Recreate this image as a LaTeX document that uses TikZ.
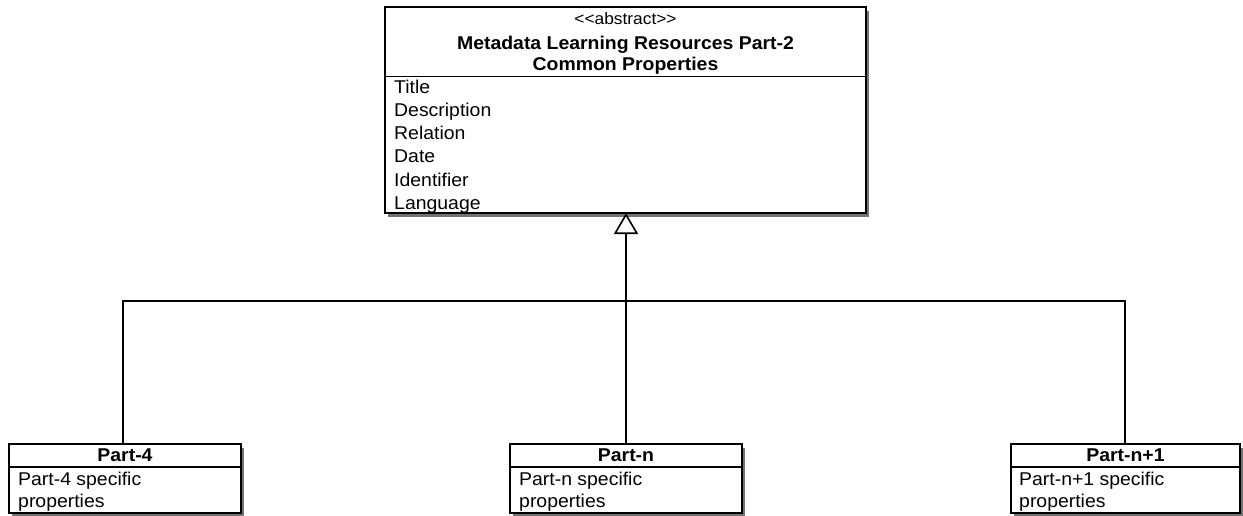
\documentclass[tikz,border=0pt]{standalone}
\usepackage{fontspec}
\setmainfont{Liberation Sans}[FakeStretch=1.05]
\usetikzlibrary{arrows.meta}
\tikzset{
  cls/.style={draw=black, line width=1.8pt, fill=white, anchor=north west, inner sep=0pt, outer sep=0pt},
  shadowbox/.style={fill=black!55, draw=none},
  attr/.style={anchor=base west, inner sep=0pt, font=\fontsize{18.5}{22}\selectfont},
  hdr/.style={anchor=base, inner sep=0pt, font=\fontsize{18.5}{22}\selectfont\bfseries},
  stereo/.style={anchor=base, inner sep=0pt, font=\fontsize{16.5}{18}\selectfont},
  conn/.style={draw=black, line width=1.8pt},
}
\begin{document}
\begin{tikzpicture}[x=1pt,y=-1pt]
\useasboundingbox (0,0) rectangle (1243,516);
% shadows
\fill[shadowbox] (388,11) rectangle (869,217);
\fill[shadowbox] (12,448) rectangle (244,516);
\fill[shadowbox] (513,448) rectangle (745,516);
\fill[shadowbox] (1014,448) rectangle (1243,516);
% top class
\node[cls, minimum width=481pt, minimum height=206pt] (top) at (385,7) {};
\draw[line width=1pt] (385,77) -- (866,77);
\node[stereo] (st) at (625.5,25) {<{}<abstract>{}>};
\node[hdr] (t1) at (625.5,49.5) {Metadata Learning Resources Part-2};
\node[hdr] (t2) at (625.5,70.5) {Common Properties};
\node[attr] (a1) at (394,94) {Title};
\node[attr] (a2) at (394,117) {Description};
\node[attr] (a3) at (394,140) {Relation};
\node[attr] (a4) at (394,163) {Date};
\node[attr] (a5) at (394,186) {Identifier};
\node[attr] (a6) at (394,209) {Language};
% Part-4
\node[cls, minimum width=232pt, minimum height=69pt] (p4) at (9,444) {};
\draw[line width=1.5pt] (9,467) -- (241,467);
\node[hdr] (p4h) at (125,461) {Part-4};
\node[attr] (p4a) at (18,485) {Part-4 specific};
\node[attr] (p4b) at (18,507) {properties};
% Part-n
\node[cls, minimum width=232pt, minimum height=69pt] (pn) at (510,444) {};
\draw[line width=1.5pt] (510,467) -- (742,467);
\node[hdr] (pnh) at (626,461) {Part-n};
\node[attr] (pna) at (519,485) {Part-n specific};
\node[attr] (pnb) at (519,507) {properties};
% Part-n+1
\node[cls, minimum width=229pt, minimum height=69pt] (pn1) at (1011,444) {};
\draw[line width=1.5pt] (1011,467) -- (1240,467);
\node[hdr] (pn1h) at (1125.5,461) {Part-n+1};
\node[attr] (pn1a) at (1019,485) {Part-n+1 specific};
\node[attr] (pn1b) at (1019,507) {properties};
% connectors
\coordinate (j) at (626,301);
\coordinate (l4) at (123,444);
\coordinate (l5) at (1125,444);
\draw[conn] (l4) |- (j) -| (l5);
\draw[conn, -{Triangle[open, length=21pt, width=24pt, line width=1.6pt]}] (pn.north -| j) -- (top.south -| j);
\end{tikzpicture}
\end{document}
